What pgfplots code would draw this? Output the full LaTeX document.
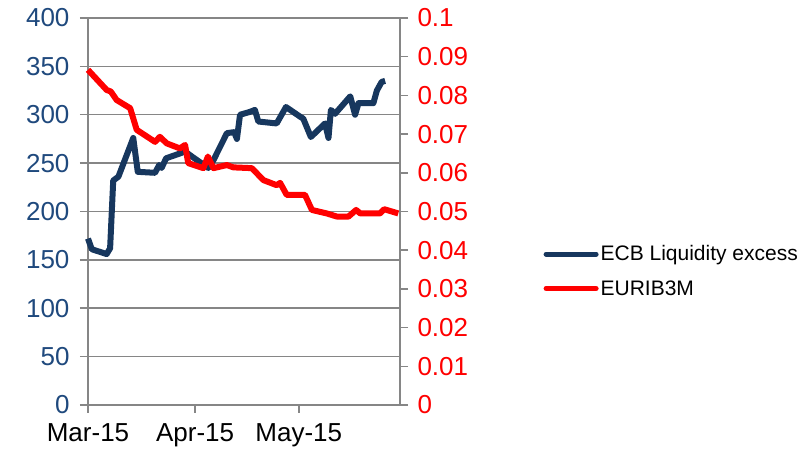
\documentclass[border=0pt]{standalone}
\usepackage{pgfplots}
\pgfplotsset{compat=1.18}
\usepackage{fontspec}
\setmainfont{Liberation Sans}
\definecolor{ecbblue}{HTML}{17375E}
\definecolor{labblue}{HTML}{1F497D}
\definecolor{gridgray}{HTML}{868686}
\begin{document}
\begin{tikzpicture}[x=1pt,y=1pt]
\path[use as bounding box] (0,0) rectangle (812,453);
\begin{axis}[
  at={(88pt,48pt)}, anchor=south west,
  scale only axis, width=312pt, height=387pt,
  xmin=0, xmax=90.3, ymin=0, ymax=400,
  axis y line*=left, axis x line*=bottom,
  xtick={0,31,61}, xticklabels={Mar-15,Apr-15,May-15},
  ytick={0,50,100,150,200,250,300,350,400},
  ymajorgrids, grid style={gridgray, line width=1.5pt},
  axis line style={gridgray, line width=1.5pt},
  tick style={gridgray, line width=1.5pt}, major tick length=8pt, tick align=outside,
  ticklabel style={font=\fontsize{26}{30}\selectfont},
  yticklabel style={text=labblue, xshift=-7pt},
  xticklabel style={yshift=-7pt},
  /pgf/number format/assume math mode=true,
  clip=false,
]
\addplot[ecbblue, line width=6pt, line join=round] coordinates {
(0,172)(1.1,161)(5.4,156)(6.4,162)(7.3,232)(8.8,236)(13.1,276)(14.4,241)(19.4,240)(20.6,248)(21.3,245)(22.6,255)(26.6,260)(28.1,262)(30.0,257)(34.8,245)(36.3,253)(40.2,281)(42.3,282)(43.1,275)(44.0,300)(46.9,303)(48.3,305)(49.3,293)(54.6,291)(57.3,308)(61.4,298)(62.3,296)(64.5,277)(68.6,291)(69.6,276)(70.3,305)(71.5,301)(75.9,319)(77.3,300)(78.3,312)(82.6,312)(83.6,325)(85.0,334)(86.0,335)
};
\end{axis}
\begin{axis}[
  at={(88pt,48pt)}, anchor=south west,
  scale only axis, width=312pt, height=387pt,
  xmin=0, xmax=90.3, ymin=0, ymax=0.1,
  axis y line*=right, axis x line=none,
  ytick={0,0.01,0.02,0.03,0.04,0.05,0.06,0.07,0.08,0.09,0.1},
  axis line style={gridgray, line width=1.5pt},
  tick style={gridgray, line width=1.5pt}, major tick length=8pt, tick align=outside,
  ticklabel style={font=\fontsize{26}{30}\selectfont},
  yticklabel style={text=red, xshift=6pt, /pgf/number format/fixed, /pgf/number format/precision=2},
  scaled y ticks=false,
  /pgf/number format/assume math mode=true,
  clip=false,
  legend style={at={(1.45,0.346)}, anchor=west, draw=none, fill=none,
    font=\fontsize{21}{25}\selectfont, row sep=14pt},
  legend cell align=left,
  legend image code/.code={\draw[#1, line width=5pt, line cap=round] (2pt,0pt) -- (52pt,0pt);},
]
\addlegendimage{ecbblue}
\addlegendentry{ECB Liquidity excess}
\addplot[red, line width=6pt, line join=round] coordinates {
(0,0.0866)(5.4,0.0814)(6.6,0.0810)(8.3,0.0788)(12.2,0.0767)(14.1,0.0711)(19.4,0.0680)(20.8,0.0693)(22.8,0.0676)(26.6,0.0663)(28.1,0.0672)(29.0,0.0625)(33.4,0.0612)(34.7,0.0642)(36.3,0.0612)(40.2,0.0620)(42.1,0.0614)(47.4,0.0612)(50.8,0.0581)(54.6,0.0568)(55.6,0.0574)(57.5,0.0543)(62.8,0.0543)(64.8,0.0504)(69.1,0.0495)(72.0,0.0487)(75.4,0.0487)(77.6,0.0504)(78.8,0.0495)(84.5,0.0495)(85.7,0.0506)(89.8,0.0495)
};
\addlegendentry{EURIB3M}
\end{axis}
\end{tikzpicture}
\end{document}
